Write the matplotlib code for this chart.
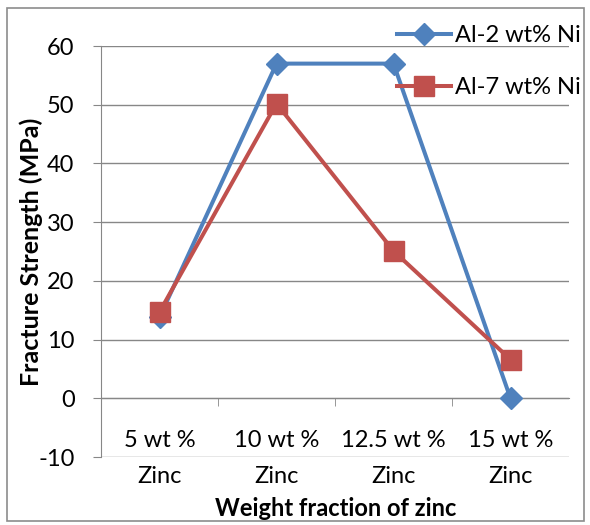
import matplotlib
matplotlib.use("Agg")
import matplotlib.pyplot as plt
from matplotlib.patches import Rectangle
import numpy as np

categories = ["5 wt %\nZinc", "10 wt %\nZinc", "12.5 wt %\nZinc", "15 wt %\nZinc"]
al2 = [13.8, 57, 57, 0]
al7 = [14.7, 50.2, 25.1, 6.6]
yticks = [-10, 0, 10, 20, 30, 40, 50, 60]

plt.rcParams['font.family'] = ['Lato', 'DejaVu Sans']
FS = 17

fig = plt.figure(figsize=(5.9, 5.25), dpi=100)
ax = fig.add_axes([101/590, 1-457/525, (569-101)/590, (457-46)/525])

grid_c = '#878787'
x = np.arange(len(categories))
ax.plot(x, al2, color='#4F81BD', lw=2.9, marker='D', ms=11, label='Al-2 wt% Ni', zorder=3)
ax.plot(x, al7, color='#C0504D', lw=2.9, marker='s', ms=14, label='Al-7 wt% Ni', zorder=4)

ax.set_xlim(-0.5, 3.5)
ax.set_ylim(-10, 60)
ax.set_yticks(yticks)
ax.set_yticklabels([str(v) for v in yticks], fontsize=FS)
ax.yaxis.grid(True, color=grid_c, lw=1)
ax.set_axisbelow(True)

for s in ['top', 'right']:
    ax.spines[s].set_visible(False)
ax.spines['left'].set_color(grid_c)
ax.spines['bottom'].set_position(('data', 0))
ax.spines['bottom'].set_color(grid_c)
ax.tick_params(axis='y', length=6, color=grid_c, pad=13)

ax.set_xticks(x)
ax.set_xticklabels(categories, fontsize=FS, linespacing=1.85)
ax.set_xticks([0.5, 1.5, 2.5], minor=True)
ax.tick_params(axis='x', which='major', length=0, pad=23)
ax.tick_params(axis='x', which='minor', length=6, color=grid_c)

ax.set_ylabel('Fracture Strength (MPa)', fontsize=18, fontweight='bold')
ax.yaxis.set_label_coords((43-101)/468, 0.5)
fig.text(336/590, 1-508/525, 'Weight fraction of zinc', fontsize=FS, fontweight='bold',
         ha='center', va='center')

leg = ax.legend(loc='upper right', bbox_to_anchor=(590/590, 1-16/525), bbox_transform=fig.transFigure,
                frameon=False, fontsize=FS, labelspacing=1.3, handlelength=2.3,
                handletextpad=0.15, borderaxespad=0)

fig.patches.append(Rectangle((7/590, 1-521/525), (584-7)/590, (521-8)/525, transform=fig.transFigure,
                             fill=False, edgecolor='#8c8c8c', lw=1.2))

fig.savefig('out.png', dpi=100)
